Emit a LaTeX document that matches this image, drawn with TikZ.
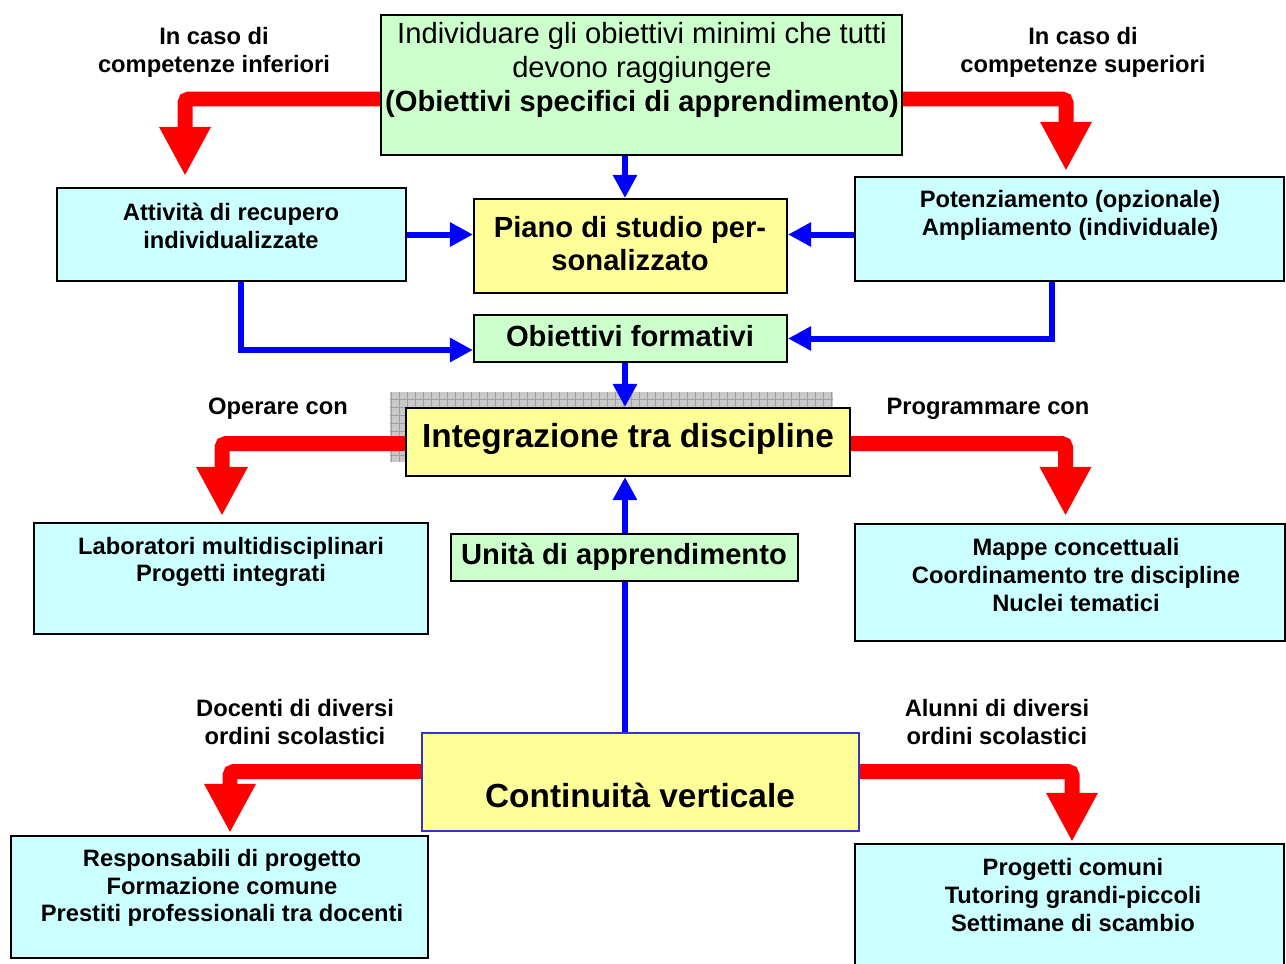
\documentclass[tikz,border=0pt]{standalone}
\usepackage{fontspec}
\setmainfont{Liberation Sans}
\usepackage{tikz}
\definecolor{boxGreen}{HTML}{CCFFCC}
\definecolor{boxCyan}{HTML}{CCFFFF}
\definecolor{boxYellow}{HTML}{FFFF99}
\definecolor{contBlue}{HTML}{3333CC}
\usetikzlibrary{fit}
\usetikzlibrary{arrows.meta}
\newcommand\fsmall{\fontsize{13.5}{15.8}\selectfont\bfseries}
\newcommand\fmid{\fontsize{16.6}{18.8}\selectfont\bfseries}
\newcommand\fbig{\fontsize{19}{22}\selectfont\bfseries}
\newcommand\ftop{\fontsize{16.6}{19.3}\selectfont}
\tikzset{
    box/.style={draw=black, line width=1.2pt, inner sep=0pt},
    txt/.style={align=center, inner sep=0pt},
    redarr/.style={draw=red, line width=0.3cm, rounded corners=0.08cm, -{Triangle[width=0.96cm,length=0.98cm]}},
    bluearr/.style={draw=blue, line width=0.12cm, -{Triangle[width=0.46cm,length=0.46cm]}}
}

\begin{document}
\begin{tikzpicture}[x=0.02cm,y=-0.02cm]
        \useasboundingbox (0,0) rectangle (1286,964);

        \node[box, fill=boxGreen,  fit={(381,15) (902,155)}] (top) {};
        \node[box, fill=boxCyan,   fit={(57,188) (406,281)}] (recup) {};
        \node[box, fill=boxCyan,   fit={(855,177) (1284,281)}] (poten) {};
        \node[box, fill=boxYellow, fit={(474,199) (787,293)}] (piano) {};
        \node[box, fill=boxGreen,  fit={(474,315) (787,362)}] (obiet) {};

        \fill[gray!42] (390,392) rectangle (833,462);
        \draw[gray!75, line width=0.5pt, step=0.16cm] (390,392) grid (833,462);
        \node[box, fill=boxYellow, fit={(406,408) (850,476)}] (integ) {};

        \node[box, fill=boxCyan,   fit={(34,523) (428,634)}] (labor) {};
        \node[box, fill=boxCyan,   fit={(855,524) (1285,641)}] (mappe) {};
        \node[box, fill=boxYellow, draw=contBlue, fit={(422,733) (859,831)}] (cont) {};
        \node[box, fill=boxCyan,   fit={(11,836) (428,958)}] (resp) {};
        \node[box, fill=boxCyan,   fit={(855,844) (1284,975)}] (prog) {};

        \coordinate (axis) at (625,0);

        \draw[redarr] ([yshift=-0.28cm]top.west) -| ([xshift=-0.93cm,yshift=0.22cm]recup.north);
        \draw[redarr] ([yshift=-0.28cm]top.east) -| ([xshift=-0.07cm,yshift=0.1cm]poten.north);
        \draw[redarr] ([yshift=-0.03cm]integ.west) -| ([xshift=-0.18cm,yshift=0.12cm]labor.north);
        \draw[redarr] ([yshift=-0.03cm]integ.east) -| ([xshift=-0.09cm,yshift=0.14cm]mappe.north);
        \draw[redarr] ([yshift=0.21cm]cont.west) -| ([xshift=0.21cm,yshift=0.04cm]resp.north);
        \draw[redarr] ([yshift=0.21cm]cont.east) -| ([xshift=0.05cm,yshift=0.02cm]prog.north);

        \draw[bluearr] (top.south -| axis) -- (piano.north -| axis);
        \draw[bluearr] (recup.east) -- (recup.east -| piano.west);
        \draw[bluearr] (poten.west |- recup.east) -- (piano.east |- recup.east);
        \draw[bluearr] ([xshift=0.19cm]recup.south) |- ([yshift=-0.23cm]obiet.west);
        \draw[bluearr] ([xshift=-0.35cm]poten.south) |- (obiet.east);
        \draw[bluearr] (obiet.south -| axis) -- (integ.north -| axis);
        \draw[bluearr] (cont.north -| axis) -- (integ.south -| axis);

        \node[box, fill=boxGreen, fit={(451,534) (798,581)}] (unita) {};

        \node[txt, font=\ftop] (top-t) at (642,70) {Individuare gli obiettivi minimi che tutti\\devono raggiungere\\\textbf{(Obiettivi specifici di apprendimento)}};
        \node[txt, font=\fsmall] (inf-t) at (214,52) {In caso di\\competenze inferiori};
        \node[txt, font=\fsmall] (sup-t) at (1083,52) {In caso di\\competenze superiori};
        \node[txt, font=\fsmall] (recup-t) at (231,226) {Attività di recupero\\individualizzate};
        \node[txt, font=\fsmall] (poten-t) at (1070,215) {Potenziamento (opzionale)\\Ampliamento (individuale)};
        \node[txt, font=\fmid] (piano-t) at (630,244) {Piano di studio per-\\sonalizzato};
        \node[txt, font=\fmid] (obiet-t) at (630,336) {Obiettivi formativi};
        \node[txt, font=\fbig] (integ-t) at (628,439) {Integrazione tra discipline};
        \node[txt, font=\fsmall] (oper-t) at (278,409) {Operare con};
        \node[txt, font=\fsmall] (progr-t) at (988,409) {Programmare con};
        \node[txt, font=\fsmall] (labor-t) at (231,562) {Laboratori multidisciplinari\\Progetti integrati};
        \node[txt, font=\fsmall] (mappe-t) at (1076,575) {Mappe concettuali\\Coordinamento tre discipline\\Nuclei tematici};
        \node[txt, font=\fmid] (unita-t) at (624,557) {Unità di apprendimento};
        \node[txt, font=\fsmall] (doc-t) at (295,722) {Docenti di diversi\\ordini scolastici};
        \node[txt, font=\fsmall] (alun-t) at (997,722) {Alunni di diversi\\ordini scolastici};
        \node[txt, font=\fbig] (cont-t) at (640,795) {Continuità verticale};
        \node[txt, font=\fsmall] (resp-t) at (222,888) {Responsabili di progetto\\Formazione comune\\Prestiti professionali tra docenti};
        \node[txt, font=\fsmall] (prog-t) at (1073,895) {Progetti comuni\\Tutoring grandi-piccoli\\Settimane di scambio};
    \end{tikzpicture}
\end{document}
